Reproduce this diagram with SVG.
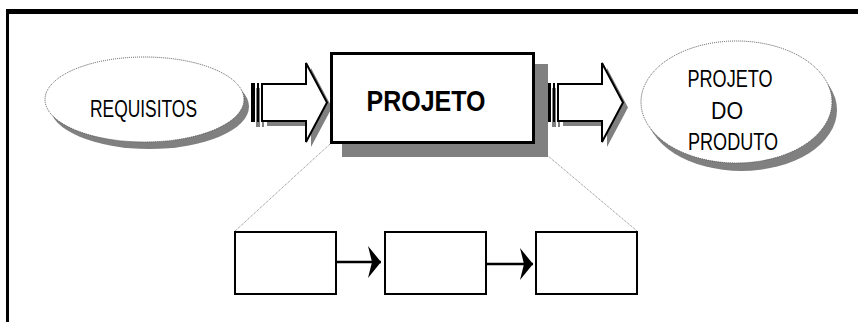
<svg xmlns="http://www.w3.org/2000/svg" xmlns:xlink="http://www.w3.org/1999/xlink" width="858" height="322" viewBox="0 0 858 322">
  <style>
    .lbl { font-family: "Liberation Sans", Arial, sans-serif; font-size: 23px; fill: #000; text-anchor: middle; }
    .big { font-family: "Liberation Sans", Arial, sans-serif; font-size: 30px; font-weight: bold; fill: #000; text-anchor: middle; }
    .shadow { fill: #808080; stroke: none; }
    .oval { fill: #fff; stroke: #555; stroke-width: 1; stroke-dasharray: 1 1; }
    .box { fill: #fff; stroke: #000; stroke-width: 2; }
    .guide { fill: none; stroke: #666; stroke-width: 0.8; stroke-dasharray: 1 1; }
    .flow { fill: none; stroke: #000; stroke-width: 2.5; }
  </style>
  <defs>
    <marker id="stealth" viewBox="0 0 13 32" refX="13" refY="16" markerWidth="13" markerHeight="32" markerUnits="userSpaceOnUse" orient="auto">
      <path d="M0,0 L13,16 L0,32 L4,16 Z" fill="#000"/>
    </marker>
    <g id="blockArrow">
      <g transform="translate(5,5)" class="shadow">
        <path d="M262,84 H306 V63 L327,102.5 L306,142 V121 H262 Z"/>
        <rect x="251" y="83" width="4" height="39"/>
        <rect x="257" y="83" width="2" height="39"/>
      </g>
      <path d="M262,84 H306 V63 L327,102.5 L306,142 V121 H262 Z" fill="#fff" stroke="#000" stroke-width="2" stroke-linejoin="miter"/>
      <rect x="251" y="83" width="4" height="39" fill="#000"/>
      <rect x="257" y="83" width="2" height="39" fill="#000"/>
    </g>
  </defs>

  <g id="frame">
    <rect x="6" y="9" width="852" height="5" fill="#000"/>
    <rect x="6" y="9" width="3" height="313" fill="#000"/>
  </g>

  <g id="connectors">
    <line class="guide" x1="330" y1="144" x2="234" y2="232"/>
    <line class="guide" x1="535" y1="145" x2="637" y2="231"/>
    <use xlink:href="#blockArrow"/>
    <use xlink:href="#blockArrow" transform="translate(296,0)"/>
    <line class="flow" x1="337" y1="262" x2="381" y2="262" marker-end="url(#stealth)"/>
    <line class="flow" x1="483" y1="264" x2="533" y2="264" marker-end="url(#stealth)"/>
  </g>

  <g id="requisitos">
    <ellipse class="shadow" cx="149.5" cy="106.5" rx="99.5" ry="42.5"/>
    <ellipse class="oval" cx="144.5" cy="99.5" rx="99.5" ry="42.5"/>
    <text class="lbl" x="143.5" y="116.5" textLength="107" lengthAdjust="spacingAndGlyphs">REQUISITOS</text>
  </g>

  <g id="projeto">
    <rect class="shadow" x="342" y="64" width="206" height="93"/>
    <rect x="331.5" y="53.5" width="202" height="89" fill="#fff" stroke="#000" stroke-width="3"/>
    <text class="big" x="426" y="110.5" textLength="119" lengthAdjust="spacingAndGlyphs">PROJETO</text>
  </g>

  <g id="projeto-do-produto">
    <ellipse class="shadow" cx="741.5" cy="110" rx="95.5" ry="61"/>
    <ellipse class="oval" cx="736.5" cy="102" rx="95.5" ry="61"/>
    <text class="lbl" x="730" y="86.5" textLength="85" lengthAdjust="spacingAndGlyphs">PROJETO</text>
    <text class="lbl" x="727" y="119" textLength="32" lengthAdjust="spacingAndGlyphs">DO</text>
    <text class="lbl" x="733" y="150" textLength="90" lengthAdjust="spacingAndGlyphs">PRODUTO</text>
  </g>

  <g id="step1"><rect class="box" x="235" y="232" width="101" height="62"/></g>
  <g id="step2"><rect class="box" x="385" y="232" width="101" height="62"/></g>
  <g id="step3"><rect class="box" x="536" y="232" width="101" height="62"/></g>
</svg>
